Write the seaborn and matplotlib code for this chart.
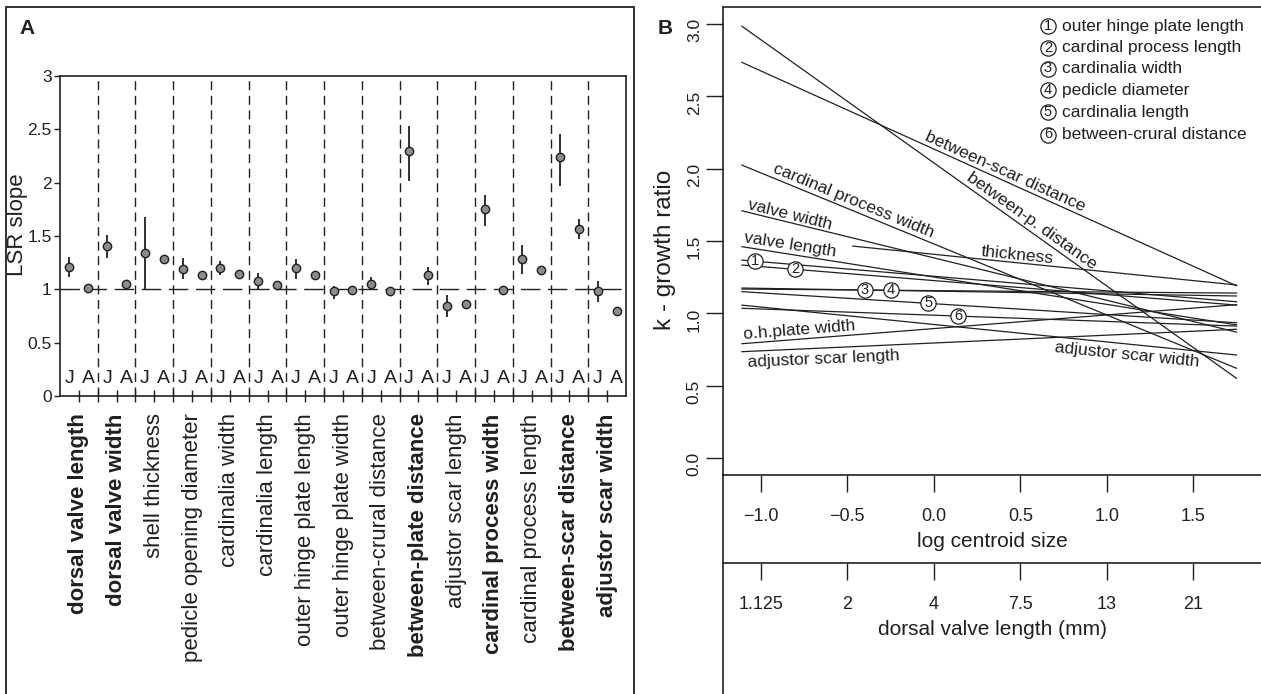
import numpy as np
import pandas as pd
import matplotlib
matplotlib.use("Agg")
import matplotlib.pyplot as plt
import seaborn as sns
from matplotlib.patches import Rectangle
from matplotlib.lines import Line2D
from matplotlib.ticker import FuncFormatter, FormatStrFormatter

# ---------------- Panel A data ----------------
variables = ["dorsal valve length", "dorsal valve width", "shell thickness",
             "pedicle opening diameter", "cardinalia width", "cardinalia length",
             "outer hinge plate length", "outer hinge plate width",
             "between-crural distance", "between-plate distance",
             "adjustor scar length", "cardinal process width",
             "cardinal process length", "between-scar distance",
             "adjustor scar width"]
bold_vars = ["dorsal valve length", "dorsal valve width", "between-plate distance",
             "cardinal process width", "between-scar distance", "adjustor scar width"]
stages = ["J", "A"]

j_slope = [1.21, 1.41, 1.34, 1.19, 1.20, 1.08, 1.20, 0.98, 1.05, 2.30, 0.84, 1.75, 1.28, 2.24, 0.98]
j_low   = [1.12, 1.29, 1.00, 1.10, 1.13, 1.00, 1.10, 0.91, 0.99, 2.02, 0.74, 1.59, 1.14, 1.97, 0.88]
j_high  = [1.30, 1.51, 1.68, 1.29, 1.27, 1.15, 1.28, 1.03, 1.12, 2.53, 0.95, 1.88, 1.42, 2.46, 1.08]
a_slope = [1.01, 1.05, 1.28, 1.13, 1.14, 1.04, 1.13, 0.99, 0.98, 1.13, 0.86, 0.99, 1.18, 1.57, 0.80]
a_low   = [0.99, 1.01, 1.25, 1.105, 1.12, 1.02, 1.105, 0.98, 0.97, 1.04, 0.82, 0.98, 1.14, 1.47, 0.77]
a_high  = [1.03, 1.09, 1.31, 1.155, 1.16, 1.06, 1.155, 1.00, 0.99, 1.21, 0.90, 1.00, 1.22, 1.66, 0.83]

# ---------------- Panel B data ----------------
traits = ["between-p. distance", "between-scar distance", "cardinal process width",
          "valve width", "valve length", "thickness", "outer hinge plate length",
          "cardinal process length", "cardinalia width", "pedicle diameter",
          "cardinalia length", "between-crural distance", "o.h.plate width",
          "adjustor scar length", "adjustor scar width"]
x_start = [-1.11, -1.11, -1.11, -1.11, -1.11, -0.47, -1.11, -1.11, -1.11, -1.11,
           -1.11, -1.11, -1.11, -1.11, -1.11]
x_end   = [1.75] * 15
k_start = [2.985, 2.735, 2.025, 1.709, 1.461, 1.465, 1.368, 1.334, 1.175, 1.168,
           1.150, 1.035, 0.790, 0.735, 1.057]
k_end   = [0.550, 1.190, 0.620, 0.870, 0.920, 1.196, 1.080, 1.057, 1.120, 1.140,
           0.935, 0.912, 1.060, 0.890, 0.712]
numbered_traits = ["outer hinge plate length", "cardinal process length",
                   "cardinalia width", "pedicle diameter", "cardinalia length",
                   "between-crural distance"]
centroid_ticks = [-1.0, -0.5, 0.0, 0.5, 1.0, 1.5]
dvl_labels = ["1.125", "2", "4", "7.5", "13", "21"]

# ---------------- figure setup ----------------
sns.set_theme(style="white")
plt.rcParams["font.family"] = ["Liberation Sans", "DejaVu Sans"]
plt.rcParams["axes.unicode_minus"] = True

W, H = 1261, 694
fig = plt.figure(figsize=(W / 100, H / 100), dpi=100)
fig.patch.set_facecolor("white")


def rect(l, t, r, b):
    return [l / W, 1 - b / H, (r - l) / W, (b - t) / H]


INK = "#231f20"

# ================= Panel A =================
axA = fig.add_axes(rect(60, 76, 626, 396))
n = len(variables)
rows = []
for i, v in enumerate(variables):
    rows.append(dict(pos=2 * i, stage="J", slope=j_slope[i], lo=j_low[i], hi=j_high[i]))
    rows.append(dict(pos=2 * i + 1, stage="A", slope=a_slope[i], lo=a_low[i], hi=a_high[i]))
dfA = pd.DataFrame(rows)

axA.axhline(1.0, color=INK, lw=1.0, linestyle=(0, (14, 5.5)), zorder=1)
for s in np.arange(1.5, 2 * n - 1, 2):
    axA.axvline(s, color=INK, lw=1.0, linestyle=(0, (6.5, 4.0)), zorder=1)
axA.vlines(dfA["pos"], dfA["lo"], dfA["hi"], color=INK, lw=1.3, zorder=2)
sns.scatterplot(data=dfA, x="pos", y="slope", color="#8c8c8c", edgecolor=INK,
                linewidth=1.0, s=36, ax=axA, zorder=3, legend=False)
for _, r in dfA.iterrows():
    axA.text(r["pos"], 0.16, r["stage"], ha="center", va="center", fontsize=14, color=INK)

axA.set_xlim(-0.5, 2 * n - 0.5)
axA.set_ylim(0, 3)
axA.set_yticks(np.arange(0, 3.01, 0.5))
axA.set_yticklabels(["0", "0.5", "1", "1.5", "2", "2.5", "3"])
axA.set_xticks(np.arange(0.5, 2 * n, 2))
axA.set_xticklabels(variables, rotation=90, va="top", ha="center")
axA.set_xticks(np.arange(1.5, 2 * n - 1, 2), minor=True)
for lab in axA.get_xticklabels():
    lab.set_fontsize(16)
    lab.set_color(INK)
    if lab.get_text() in bold_vars:
        lab.set_fontweight("bold")
axA.tick_params(axis="x", which="both", direction="inout", length=9, width=1.0,
                color=INK, bottom=True, pad=8)
axA.tick_params(axis="y", direction="out", length=4, width=1.0, color=INK,
                left=True, labelsize=12.5, labelcolor=INK, pad=2)
for sp in axA.spines.values():
    sp.set_color(INK)
    sp.set_linewidth(1.2)
axA.set_xlabel("")
axA.set_ylabel("LSR slope", fontsize=16, color=INK)
axA.yaxis.set_label_coords(-0.057, 0.535)

fig.add_artist(Rectangle((5.7 / W, 1 - 700 / H), (634 - 5.7) / W, (700 - 6.7) / H,
                         transform=fig.transFigure, fill=False, ec=INK, lw=1.3))
fig.text(27 / W, 1 - 29 / H, "A", fontsize=15, fontweight="bold", ha="center",
         va="center", color=INK)

# ================= Panel B =================
axB = fig.add_axes(rect(722.7, 7, 1262, 475))
axB.set_xlim(-1.22, 1.896)
axB.set_ylim(-0.117, 3.117)

long_rows = []
for t, x0, x1, y0, y1 in zip(traits, x_start, x_end, k_start, k_end):
    long_rows.append(dict(trait=t, x=x0, k=y0))
    long_rows.append(dict(trait=t, x=x1, k=y1))
dfB = pd.DataFrame(long_rows)
sns.lineplot(data=dfB, x="x", y="k", units="trait", estimator=None, sort=False,
             color=INK, lw=0.9, ax=axB, legend=False)

axB.set_yticks(np.arange(0, 3.01, 0.5))
axB.yaxis.set_major_formatter(FormatStrFormatter("%.1f"))
axB.set_xticks(centroid_ticks)
axB.xaxis.set_major_formatter(FuncFormatter(lambda v, p: f"{v:.1f}".replace("-", "\u2212")))
axB.tick_params(axis="y", direction="out", length=12, width=1.0, color=INK, left=True,
                labelsize=12.5, labelcolor=INK, labelrotation=90, pad=3)
axB.tick_params(axis="x", direction="out", length=12, width=1.0, color=INK, bottom=True,
                labelsize=13, labelcolor=INK, pad=12)
axB.spines["right"].set_visible(False)
for sp in ["left", "top", "bottom"]:
    axB.spines[sp].set_color(INK)
    axB.spines[sp].set_linewidth(1.2)
axB.set_xlabel("log centroid size", fontsize=15, color=INK, labelpad=5)
axB.set_ylabel("k - growth ratio", fontsize=17.5, color=INK)
axB.yaxis.set_label_coords((668 - 722.7) / (1262 - 722.7) + 0.014, (475 - 250) / 468)

sec = axB.secondary_xaxis(-(563 - 475) / 468, functions=(lambda v: v, lambda v: v))
sec.set_xticks(centroid_ticks)
sec.set_xticklabels(dvl_labels)
sec.tick_params(axis="x", direction="out", length=12, width=1.0, color=INK,
                labelsize=13, labelcolor=INK, pad=12)
sec.spines["bottom"].set_color(INK)
sec.spines["bottom"].set_linewidth(1.2)
sec.set_xlabel("dorsal valve length (mm)", fontsize=15, color=INK, labelpad=5)

fig.add_artist(Line2D([722.7 / W, 722.7 / W], [1 - 475 / H, -0.01],
                      transform=fig.transFigure, color=INK, lw=1.2))
fig.text(665 / W, 1 - 29 / H, "B", fontsize=15, fontweight="bold", ha="center",
         va="center", color=INK)


def line_y(name, x):
    i = traits.index(name)
    x0, x1, y0, y1 = x_start[i], x_end[i], k_start[i], k_end[i]
    return y0 + (y1 - y0) * (x - x0) / (x1 - x0)


def screen_angle(name):
    i = traits.index(name)
    p0 = axB.transData.transform((x_start[i], k_start[i]))
    p1 = axB.transData.transform((x_end[i], k_end[i]))
    return np.degrees(np.arctan2(p1[1] - p0[1], p1[0] - p0[0]))


# on-line labels: (trait, x position, perpendicular offset in px; + above)
line_labels = [("between-scar distance", 0.39, 9),
               ("between-p. distance", 0.535, 9),
               ("cardinal process width", -0.485, 9),
               ("valve width", -0.84, 8),
               ("valve length", -0.84, 9),
               ("thickness", 0.478, 8),
               ("o.h.plate width", -0.773, 9),
               ("adjustor scar length", -0.64, -11),
               ("adjustor scar width", 1.123, -11)]
for name, lx, off in line_labels:
    ang = screen_angle(name)
    d = off * 0.72
    dx = -np.sin(np.radians(ang)) * d
    dy = np.cos(np.radians(ang)) * d
    axB.annotate(name, xy=(lx, line_y(name, lx)), xytext=(dx, dy),
                 textcoords="offset points", ha="center", va="center",
                 rotation=ang, rotation_mode="anchor", fontsize=12.5, color=INK)

circle_x = [-1.035, -0.80, -0.398, -0.248, -0.032, 0.141]
for k, (name, cx) in enumerate(zip(numbered_traits, circle_x)):
    cy = line_y(name, cx)
    axB.plot([cx], [cy], "o", ms=11, mfc="white", mec=INK, mew=0.9, zorder=4)
    axB.text(cx, cy, str(k + 1), ha="center", va="center", fontsize=10.5,
             color=INK, zorder=5)

legend_rows = [26, 47.5, 68.5, 90, 112, 134.5]
for k, (name, ry) in enumerate(zip(numbered_traits, legend_rows)):
    fig.add_artist(Line2D([1048 / W], [1 - ry / H], marker="o", ms=11, mfc="white",
                          mec=INK, mew=0.9, transform=fig.transFigure))
    fig.text(1048 / W, 1 - ry / H, str(k + 1), ha="center", va="center",
             fontsize=10.5, color=INK)
    fig.text(1062 / W, 1 - ry / H, name, ha="left", va="center", fontsize=12.5,
             color=INK)

fig.savefig("out.png", dpi=100, facecolor="white")
